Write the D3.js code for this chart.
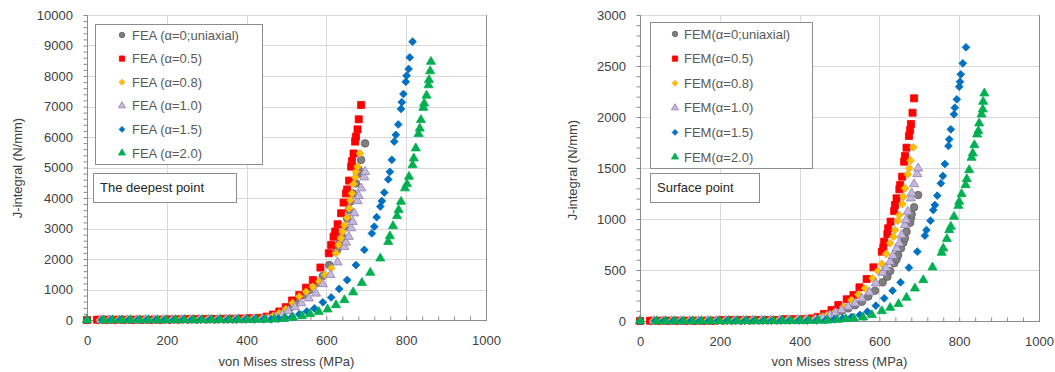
<!DOCTYPE html>
<html><head><meta charset="utf-8">
<script src="https://cdn.jsdelivr.net/npm/d3@7"></script>
<style>html,body{margin:0;padding:0;background:#fff}svg{display:block}</style>
</head><body>
<svg id="chart" width="1055" height="372"></svg>
<script>
// ---------- DATA ----------
const xTicks = [0,200,400,600,800,1000];
const deepYTicks = [0,1000,2000,3000,4000,5000,6000,7000,8000,9000,10000];
const surfYTicks = [0,500,1000,1500,2000,2500,3000];
const deepLabels = ["FEA (α=0;uniaxial)","FEA (α=0.5)","FEA (α=0.8)","FEA (α=1.0)","FEA (α=1.5)","FEA (α=2.0)"];
const surfLabels = ["FEM(α=0;uniaxial)","FEM(α=0.5)","FEM(α=0.8)","FEM(α=1.0)","FEM(α=1.5)","FEM(α=2.0)"];
const deepNote = "The deepest point";
const surfNote = "Surface point";
const xTitle = "von Mises stress (MPa)";
const yTitle = "J-integral (N/mm)";

// deepest point [stress MPa, J N/mm]
const deepA00 = [[0,0],[28,0],[50,0],[73,0],[95,0],[118,0],[140,5],[163,5],[185,5],[208,5],[230,10],[253,10],[275,10],[298,15],[320,15],[343,20],[365,20],[388,25],[410,30],[433,40],[455,60],[472,120],[490,230],[507,380],[524,560],[541,820],[557,980],[574,1200],[591,1440],[607,1800],[627,2300],[632,2490],[639,2730],[645,3060],[652,3330],[656,3610],[660,3880],[666,4150],[674,4480],[678,4780],[681,4920],[687,5250],[697,5790]];
const deepA05 = [[0,0],[25,10],[48,10],[70,10],[93,10],[115,10],[138,10],[160,10],[183,10],[205,20],[228,20],[250,30],[273,30],[295,30],[318,30],[340,40],[363,40],[385,50],[408,60],[430,70],[450,110],[466,180],[482,280],[498,420],[514,640],[532,820],[549,1060],[566,1310],[585,1720],[606,2190],[612,2460],[618,2730],[622,2900],[628,3140],[637,3500],[643,3850],[649,4150],[652,4280],[657,4570],[662,5030],[664,5210],[668,5460],[672,5850],[674,6010],[678,6250],[681,6580],[687,7050]];
const deepA08 = [[0,0],[32,0],[54,0],[77,0],[99,0],[122,0],[144,5],[167,5],[189,5],[212,5],[234,10],[257,10],[279,10],[302,15],[324,15],[347,20],[369,20],[392,25],[414,30],[437,40],[452,70],[466,130],[482,230],[498,360],[515,560],[532,770],[549,930],[566,1090],[582,1260],[597,1480],[612,1690],[624,2190],[631,2460],[637,2680],[641,2900],[645,3110],[652,3360],[657,3660],[660,3930],[664,4150],[668,4460],[672,4680],[674,4860],[678,5030],[684,5460]];
const deepA10 = [[0,0],[35,0],[57,0],[80,0],[102,0],[125,0],[147,5],[170,5],[192,5],[215,5],[237,10],[260,10],[282,10],[305,15],[327,15],[350,20],[372,20],[395,25],[417,30],[440,35],[455,50],[472,100],[490,190],[505,300],[521,420],[537,550],[556,710],[574,870],[591,1180],[610,1480],[628,1890],[645,2400],[649,2540],[656,2730],[662,3010],[666,3220],[670,3500],[678,3900],[681,4070],[687,4320],[695,4680],[697,4860]];
const deepA15 = [[0,0],[38,0],[60,0],[83,0],[105,0],[128,0],[150,0],[173,0],[195,5],[218,5],[240,5],[263,5],[285,5],[308,10],[330,10],[353,10],[375,10],[398,15],[420,15],[443,20],[462,20],[480,40],[497,70],[514,110],[532,190],[551,280],[570,380],[591,580],[612,740],[632,1020],[652,1310],[674,1800],[695,2300],[714,2840],[720,3060],[726,3370],[735,3720],[739,3900],[745,4180],[755,4610],[759,4860],[764,5250],[770,5850],[774,6070],[780,6410],[787,6920],[789,7140],[793,7410],[799,7810],[801,8010],[806,8230],[809,8610],[816,9125]];
const deepA20 = [[0,0],[42,0],[64,0],[87,0],[109,0],[132,0],[154,0],[177,0],[199,0],[222,5],[244,5],[267,5],[289,5],[312,5],[334,10],[357,10],[379,10],[402,10],[424,15],[447,15],[470,20],[494,40],[516,80],[539,130],[559,200],[581,270],[603,350],[624,490],[645,655],[667,910],[689,1220],[710,1550],[735,2020],[755,2560],[759,2750],[767,3080],[777,3410],[781,3610],[787,3880],[797,4320],[802,4460],[807,4700],[816,5080],[819,5300],[824,5630],[831,6100],[834,6280],[837,6560],[843,6960],[845,7100],[851,7360],[856,7700],[857,7870],[860,8160],[862,8470]];

// surface point [stress MPa, J N/mm]
const surfA00 = [[0,0],[28,0],[50,0],[73,0],[95,0],[118,0],[140,1],[163,1],[185,2],[208,2],[230,3],[253,3],[275,4],[298,5],[320,5],[343,6],[365,7],[388,8],[410,9],[433,11],[456,15],[472,40],[489,75],[506,100],[522,124],[539,155],[556,189],[572,240],[589,297],[608,379],[620,434],[627,490],[637,566],[643,605],[647,647],[654,713],[660,768],[664,811],[668,876],[677,964],[679,1007],[681,1046],[687,1115],[697,1235]];
const surfA05 = [[0,0],[25,3],[48,3],[70,3],[93,3],[115,3],[138,3],[160,3],[183,3],[205,10],[228,10],[250,10],[273,10],[295,10],[318,10],[340,10],[363,18],[385,18],[408,18],[430,25],[445,40],[461,69],[480,108],[497,157],[518,213],[535,255],[550,330],[568,412],[585,526],[606,680],[610,722],[612,778],[620,853],[622,909],[628,974],[637,1078],[639,1137],[643,1203],[650,1291],[652,1333],[657,1415],[662,1562],[664,1618],[668,1699],[674,1814],[677,1873],[679,1931],[683,2042],[687,2183]];
const surfA08 = [[0,0],[32,0],[54,0],[77,0],[99,0],[122,1],[144,1],[167,2],[189,2],[212,3],[234,3],[257,4],[279,5],[302,6],[324,7],[347,8],[369,10],[392,12],[414,15],[437,20],[452,35],[469,59],[489,91],[510,140],[530,206],[547,260],[564,320],[583,420],[596,490],[606,560],[617,657],[627,762],[635,827],[639,892],[646,983],[650,1039],[658,1147],[660,1219],[664,1301],[671,1438],[675,1497],[678,1572],[685,1703]];
const surfA10 = [[0,0],[35,0],[57,0],[80,0],[102,0],[125,1],[147,1],[170,2],[192,2],[215,3],[237,3],[260,4],[282,5],[305,6],[327,7],[350,8],[372,9],[395,11],[417,14],[440,18],[458,35],[476,59],[490,80],[505,108],[522,140],[539,173],[556,220],[575,281],[591,370],[608,474],[617,520],[627,581],[634,640],[643,713],[650,762],[656,843],[664,941],[667,990],[671,1072],[679,1203],[681,1252],[687,1343],[695,1441],[697,1497]];
const surfA15 = [[0,0],[38,0],[60,0],[83,0],[105,0],[128,0],[150,0],[173,0],[195,1],[218,1],[240,1],[263,1],[285,2],[308,2],[330,2],[353,3],[375,3],[398,4],[420,4],[443,5],[465,8],[487,15],[508,25],[530,40],[551,60],[570,91],[591,150],[612,222],[633,297],[653,379],[674,523],[695,680],[714,837],[718,892],[728,983],[735,1088],[739,1137],[745,1229],[754,1350],[759,1422],[764,1539],[773,1716],[775,1781],[779,1879],[787,2026],[789,2091],[794,2173],[800,2297],[802,2346],[804,2418],[809,2526],[817,2683]];
const surfA20 = [[0,0],[42,0],[64,0],[87,0],[109,0],[132,0],[154,0],[177,0],[199,0],[222,1],[244,1],[267,1],[289,1],[312,1],[334,2],[357,2],[379,2],[402,3],[424,3],[447,4],[470,5],[494,12],[516,20],[536,26],[559,36],[581,59],[606,98],[627,130],[648,167],[668,229],[689,320],[710,402],[733,526],[756,670],[760,712],[769,804],[775,892],[779,925],[787,1023],[798,1130],[800,1170],[806,1245],[816,1333],[819,1392],[825,1480],[831,1601],[834,1644],[838,1725],[845,1830],[848,1863],[850,1938],[856,2026],[859,2075],[860,2150],[863,2232]];

// ---------- STYLE ----------
const FONT = "'Liberation Sans', Arial, sans-serif";
const styles = [
  {shape:"circle",  fill:"#7f7f7f", stroke:"#606060", size:46, lsize:24},
  {shape:"square",  fill:"#ff0000", stroke:"#ff0000", size:50, lsize:28},
  {shape:"diamond", fill:"#ffc000", stroke:"#f5a623", size:30, lsize:17},
  {shape:"triangle",fill:"#c5b9da", stroke:"#8e7cb5", size:36, lsize:22},
  {shape:"diamond", fill:"#0070c0", stroke:"#0070c0", size:30, lsize:17},
  {shape:"triangle",fill:"#00b050", stroke:"#00b050", size:36, lsize:22}
];
function symPath(shape, size){
  if(shape==="circle") return d3.symbol(d3.symbolCircle, size)();
  if(shape==="square") return d3.symbol(d3.symbolSquare, size)();
  if(shape==="triangle") return d3.symbol(d3.symbolTriangle, size)();
  return d3.symbol(d3.symbolSquare, size)(); // rotated later
}

const svg = d3.select("#chart");

function drawChart(cfg){
  const g = svg.append("g");
  const x = d3.scaleLinear().domain([0,1000]).range([cfg.left, cfg.right]);
  const y = d3.scaleLinear().domain([0, cfg.ymax]).range([cfg.bottom, cfg.top]);

  // gridlines
  g.append("g").selectAll("line.h").data(cfg.yTicks.filter(d=>d>0)).join("line")
    .attr("x1", cfg.left).attr("x2", cfg.right)
    .attr("y1", d=>Math.round(y(d))+0.5).attr("y2", d=>Math.round(y(d))+0.5)
    .attr("stroke","#d9d9d9").attr("stroke-width",1);
  g.append("g").selectAll("line.v").data(xTicks.filter(d=>d>0 && d<1000)).join("line")
    .attr("y1", cfg.top).attr("y2", cfg.bottom)
    .attr("x1", d=>Math.round(x(d))+0.5).attr("x2", d=>Math.round(x(d))+0.5)
    .attr("stroke","#d9d9d9").attr("stroke-width",1);

  // right border
  g.append("line").attr("x1", Math.round(cfg.right)+0.5).attr("x2", Math.round(cfg.right)+0.5)
    .attr("y1", Math.round(cfg.top)).attr("y2", cfg.bottom).attr("stroke","#8c8c8c");

  // x axis minor ticks (inside)
  const xMinor = d3.range(0, 1001, 40);
  const xAxisMinor = d3.axisTop(x).tickValues(xMinor).tickSize(4).tickFormat("");
  const gxm = g.append("g").attr("transform",`translate(0,${Math.round(cfg.bottom)+0.5})`).call(xAxisMinor);
  gxm.select(".domain").remove();
  gxm.selectAll("line").attr("stroke","#8c8c8c");

  // y axis minor ticks (outside)
  const yMinor = d3.range(0, cfg.ymax+1, cfg.ymin);
  const yAxisMinor = d3.axisLeft(y).tickValues(yMinor).tickSize(4).tickFormat("");
  const gym = g.append("g").attr("transform",`translate(${Math.round(cfg.left)+0.5},0)`).call(yAxisMinor);
  gym.select(".domain").remove();
  gym.selectAll("line").attr("stroke","#8c8c8c");

  // axis lines
  g.append("line").attr("x1", cfg.left).attr("x2", cfg.right+1)
    .attr("y1", Math.round(cfg.bottom)+0.5).attr("y2", Math.round(cfg.bottom)+0.5).attr("stroke","#8c8c8c");
  g.append("line").attr("x1", Math.round(cfg.left)+0.5).attr("x2", Math.round(cfg.left)+0.5)
    .attr("y1", cfg.top).attr("y2", cfg.bottom).attr("stroke","#8c8c8c");

  // tick labels
  const xAxis = d3.axisBottom(x).tickValues(xTicks).tickSize(0).tickPadding(16).tickFormat(d3.format("d"));
  const gx = g.append("g").attr("transform",`translate(0,${cfg.bottom})`).call(xAxis);
  gx.select(".domain").remove();
  gx.selectAll("text").attr("font-family",FONT).attr("font-size",13).attr("fill","#404040");
  const yAxis = d3.axisLeft(y).tickValues(cfg.yTicks).tickSize(0).tickPadding(cfg.left-cfg.labelRight).tickFormat(d3.format("d"));
  const gy = g.append("g").attr("transform",`translate(${cfg.left},0)`).call(yAxis);
  gy.select(".domain").remove();
  gy.selectAll("text").attr("font-family",FONT).attr("font-size",13).attr("fill","#404040");

  // titles
  g.append("text").attr("x",(cfg.left+cfg.right)/2).attr("y",366).attr("text-anchor","middle")
    .attr("font-family",FONT).attr("font-size",13).attr("fill","#404040").text(xTitle);
  g.append("text").attr("transform",`translate(${cfg.yTitleX},${cfg.yTitleY}) rotate(-90)`).attr("text-anchor","middle")
    .attr("font-family",FONT).attr("font-size",13).attr("fill","#404040").text(yTitle);

  // series
  cfg.series.forEach((data,i)=>{
    const st = styles[i];
    const p = symPath(st.shape, st.size);
    g.append("g").selectAll("path").data(data).join("path")
      .attr("d", p)
      .attr("transform", d=>`translate(${x(d[0])},${y(d[1])})` + (st.shape==="diamond"?" rotate(45)":""))
      .attr("fill", st.fill).attr("stroke", st.stroke).attr("stroke-width", 0.8);
  });

  // legend
  const L = cfg.legend;
  g.append("rect").attr("x",L.x+0.5).attr("y",L.y+0.5).attr("width",L.w).attr("height",L.h)
    .attr("fill","#fff").attr("stroke","#8c8c8c").attr("stroke-width",1);
  cfg.labels.forEach((lab,i)=>{
    const st = styles[i];
    const cy = L.y + L.first + i*L.step;
    g.append("path").attr("d", symPath(st.shape, st.lsize))
      .attr("transform",`translate(${L.x+L.mx},${cy})`+(st.shape==="diamond"?" rotate(45)":""))
      .attr("fill", st.fill).attr("stroke", st.stroke).attr("stroke-width",0.8);
    g.append("text").attr("x", L.x+L.tx).attr("y", cy).attr("dy","0.35em")
      .attr("font-family",FONT).attr("font-size",13).attr("fill","#595959").text(lab);
  });

  // note box
  const N = cfg.note;
  g.append("rect").attr("x",N.x+0.5).attr("y",N.y+0.5).attr("width",N.w).attr("height",N.h)
    .attr("fill","#fff").attr("stroke","#8c8c8c").attr("stroke-width",1);
  g.append("text").attr("x",N.x+7).attr("y",N.y+N.h/2).attr("dy","0.35em")
    .attr("font-family",FONT).attr("font-size",13).attr("fill","#262626").text(N.text);
}

drawChart({
  left:87, right:486, top:15, bottom:320, ymax:10000, ymin:200, yTicks:deepYTicks, labelRight:73,
  yTitleX:22, yTitleY:168,
  series:[deepA00,deepA05,deepA08,deepA10,deepA15,deepA20], labels:deepLabels,
  legend:{x:95,y:24,w:167,h:140,first:11,step:23.6,mx:27,tx:37},
  note:{x:93,y:173,w:143,h:29,text:deepNote}
});
drawChart({
  left:640, right:1039, top:15, bottom:321, ymax:3000, ymin:100, yTicks:surfYTicks, labelRight:626,
  yTitleX:577, yTitleY:170,
  series:[surfA00,surfA05,surfA08,surfA10,surfA15,surfA20], labels:surfLabels,
  legend:{x:650,y:22,w:162,h:146,first:12,step:24.6,mx:25,tx:34},
  note:{x:650,y:173,w:109,h:29,text:surfNote}
});
</script>
</body></html>
